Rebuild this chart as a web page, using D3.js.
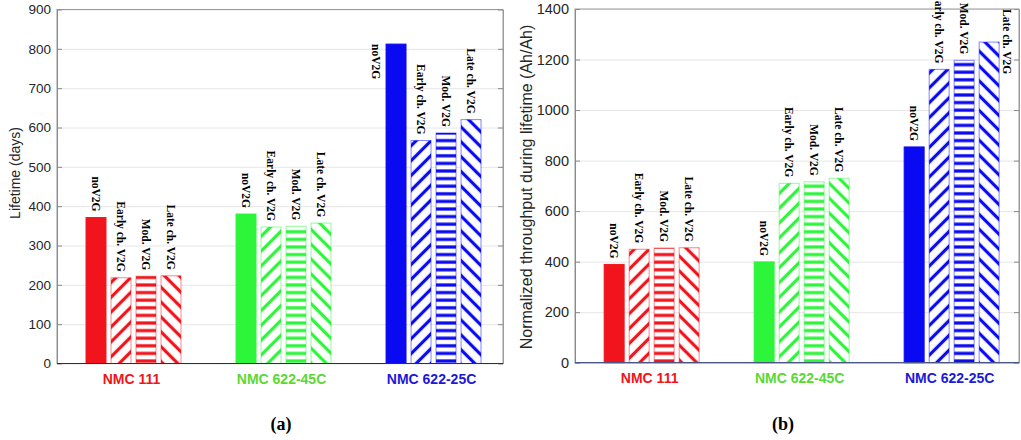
<!DOCTYPE html>
<html>
<head>
<meta charset="utf-8">
<script src="https://cdn.jsdelivr.net/npm/d3@7"></script>
<style>
  body { margin: 0; background: #fff; }
  svg { display: block; }
</style>
</head>
<body>
<script>
var W = 1021, H = 440;

// data
var categories = ["NMC 111", "NMC 622-45C", "NMC 622-25C"];
var scenarios = ["noV2G", "Early ch. V2G", "Mod. V2G", "Late ch. V2G"];
var lifetimeDays = [[371, 218, 222, 223], [380, 347, 349, 357], [812, 567, 586, 620]];
var throughputAh = [[389, 449, 454, 455], [399, 710, 716, 730], [854, 1161, 1197, 1269]];
// where each bar label sits: above the bar, or beside it
var labelSideA = [["above", "above", "above", "above"], ["above", "above", "above", "above"], ["left", "above", "above", "above"]];
var labelSideB = [["above", "above", "above", "above"], ["above", "above", "above", "above"], ["above", "above", "above", "right"]];

var barColors = ["#f2141c", "#2cf53a", "#0a0af2"];
var textColors = ["#f0141c", "#5ad834", "#1a1ad8"];
var fills = ["solid", "fwd", "horiz", "back"];

var svg = d3.select("body").append("svg").attr("width", W).attr("height", H);
var defs = svg.append("defs");

// hatch patterns, one per colour and style
barColors.forEach(function (c, ci) {
  [["fwd", -45, 10.5], ["horiz", 0, 7.6], ["back", 45, 10.5]].forEach(function (p) {
    var pat = defs.append("pattern")
      .attr("id", "h" + ci + p[0])
      .attr("patternUnits", "userSpaceOnUse")
      .attr("width", p[2]).attr("height", p[2])
      .attr("patternTransform", "rotate(" + p[1] + ")");
    pat.append("rect").attr("width", p[2]).attr("height", p[2]).attr("fill", "#fff");
    pat.append("line")
      .attr("x1", -2).attr("x2", p[2] + 2)
      .attr("y1", p[2] / 2).attr("y2", p[2] / 2)
      .attr("stroke", c).attr("stroke-width", 3.2);
  });
});

function panel(cfg) {
  var x = d3.scaleLinear().domain(cfg.xDomain).range([cfg.left, cfg.right]);
  var y = d3.scaleLinear().domain([0, cfg.yMax]).range([cfg.bottom, cfg.top]);
  var g = svg.append("g");
  var offsets = [-0.25, -1 / 12, 1 / 12, 0.25];
  var bw = 0.133;
  var nt = cfg.yMax / cfg.step;

  // grid
  g.append("g")
    .attr("transform", "translate(" + cfg.left + ",0)")
    .call(d3.axisLeft(y).ticks(nt).tickSize(-(cfg.right - cfg.left)).tickFormat(""))
    .call(function (s) {
      s.select(".domain").remove();
      s.selectAll("line").attr("stroke", "#e6e6e6");
    });

  // box
  g.append("rect")
    .attr("x", cfg.left).attr("y", cfg.top)
    .attr("width", cfg.right - cfg.left).attr("height", cfg.bottom - cfg.top)
    .attr("fill", "none").attr("stroke", "#9a9a9a").attr("stroke-width", 1);

  // left axis
  g.append("g")
    .attr("transform", "translate(" + cfg.left + ",0)")
    .call(d3.axisLeft(y).ticks(nt).tickSize(-5).tickSizeOuter(0).tickPadding(6).tickFormat(d3.format("d")))
    .call(function (s) {
      s.select(".domain").attr("stroke", "#8a8a8a");
      s.selectAll("line").attr("stroke", "#8a8a8a");
      s.selectAll("text").attr("fill", "#262626")
        .style("font-family", "'Liberation Sans', Arial, sans-serif").style("font-size", cfg.tickFont);
    });

  // right ticks
  g.append("g")
    .attr("transform", "translate(" + cfg.right + ",0)")
    .call(d3.axisRight(y).ticks(nt).tickSize(-5).tickSizeOuter(0).tickFormat(""))
    .call(function (s) {
      s.select(".domain").attr("stroke", "#9a9a9a");
      s.selectAll("line").attr("stroke", "#8a8a8a");
    });

  var rows = [];
  cfg.values.forEach(function (vals, ci) {
    vals.forEach(function (v, si) {
      rows.push({ ci: ci, si: si, v: v, side: cfg.sides[ci][si] });
    });
  });

  g.append("g").selectAll("rect").data(rows).enter().append("rect")
    .attr("x", function (d) { return x(d.ci + 1 + offsets[d.si] - bw / 2); })
    .attr("width", x(bw) - x(0))
    .attr("y", function (d) { return y(d.v); })
    .attr("height", function (d) { return y(0) - y(d.v); })
    .attr("fill", function (d) {
      return fills[d.si] == "solid" ? barColors[d.ci] : "url(#h" + d.ci + fills[d.si] + ")";
    })
    .attr("stroke", function (d) { return barColors[d.ci]; })
    .attr("stroke-opacity", function (d) { return fills[d.si] == "solid" ? 1 : 0.5; })
    .attr("stroke-width", 1);

  // baseline
  g.append("line")
    .attr("x1", cfg.left).attr("x2", cfg.right)
    .attr("y1", y(0)).attr("y2", y(0))
    .attr("stroke", cfg.baseColor).attr("stroke-width", 1.2);

  // bar labels
  g.append("g").selectAll("text").data(rows).enter().append("text")
    .attr("transform", function (d) {
      var cx = x(d.ci + 1 + offsets[d.si]);
      var half = (x(bw) - x(0)) / 2;
      if (d.side == "left") return "translate(" + (cx - half - 10) + "," + y(d.v) + ") rotate(90)";
      if (d.side == "right") return "translate(" + (cx + half + 8) + "," + cfg.top + ") rotate(90)";
      return "translate(" + cx + "," + (y(d.v) - 6) + ") rotate(90)";
    })
    .attr("text-anchor", function (d) { return d.side == "above" ? "end" : "start"; })
    .attr("dy", "0.35em")
    .style("font-family", "'Liberation Serif', 'Times New Roman', serif")
    .style("font-weight", "bold")
    .style("font-size", "11.5px")
    .attr("fill", "#000")
    .text(function (d) { return scenarios[d.si]; });

  // category labels
  g.append("g").selectAll("text").data(categories).enter().append("text")
    .attr("x", function (d, i) { return x(i + 1) - 2; })
    .attr("y", cfg.bottom + 20)
    .attr("text-anchor", "middle")
    .style("font-family", "'Liberation Sans', Arial, sans-serif")
    .style("font-weight", "bold")
    .style("font-size", "14px")
    .attr("fill", function (d, i) { return textColors[i]; })
    .text(function (d) { return d; });

  // y title
  g.append("text")
    .attr("transform", "translate(" + cfg.titleX + "," + cfg.titleY + ") rotate(-90)")
    .attr("text-anchor", "middle")
    .style("font-family", "'Liberation Sans', Arial, sans-serif")
    .style("font-size", cfg.titleFont)
    .attr("fill", "#262626")
    .text(cfg.title);

  // panel tag
  g.append("text")
    .attr("x", cfg.tagX).attr("y", 430)
    .attr("text-anchor", "middle")
    .style("font-family", "'Liberation Serif', 'Times New Roman', serif")
    .style("font-weight", "bold")
    .style("font-size", "18px")
    .attr("fill", "#000")
    .text(cfg.tag);
}

panel({
  left: 57, right: 503, top: 9.5, bottom: 363.5,
  xDomain: [0.49, 3.463], yMax: 900, step: 100,
  values: lifetimeDays, sides: labelSideA,
  title: "Lifetime (days)", titleX: 20, titleY: 173, titleFont: "14px", tickFont: "13.5px",
  tag: "(a)", tagX: 281, baseColor: "#2a2d55"
});

panel({
  left: 575, right: 1019, top: 9, bottom: 362.7,
  xDomain: [0.489, 3.449], yMax: 1400, step: 200,
  values: throughputAh, sides: labelSideB,
  title: "Normalized throughput during lifetime (Ah/Ah)", titleX: 532, titleY: 187, titleFont: "16px", tickFont: "14.5px",
  tag: "(b)", tagX: 783, baseColor: "#4a5688"
});
</script>
</body>
</html>
